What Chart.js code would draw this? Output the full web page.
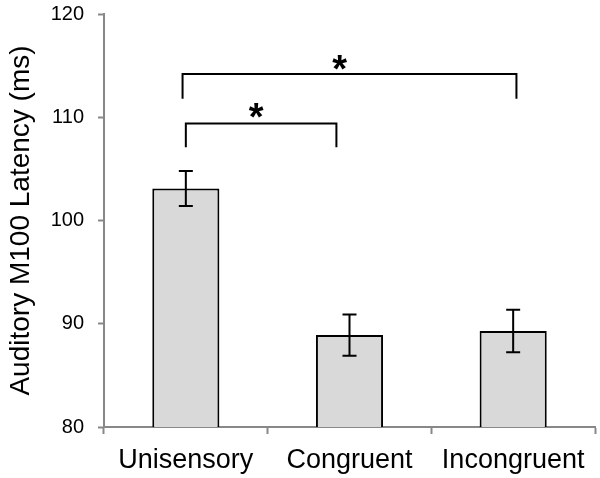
<!DOCTYPE html>
<html><head><meta charset="utf-8">
<script src="https://cdn.jsdelivr.net/npm/chart.js@4.4.0/dist/chart.umd.min.js"></script>
<style>html,body{margin:0;padding:0;background:#fff;}#wrap{width:600px;height:478px;}</style>
</head><body><div id="wrap"><canvas id="c" width="600" height="478"></canvas></div>
<script>
const categories = ['Unisensory', 'Congruent', 'Incongruent'];
const means = [103.1, 88.9, 89.3];
const errors = [1.7, 2.0, 2.05];
const yTicks = [80, 90, 100, 110, 120];
// brackets: [xStartIndex, xEndIndex, topValue, legBottomValue]
const bracketFrom = [0, -0.02];
const bracketTo = [0.92, 2.02];
const bracketTop = [109.4, 114.2];
const bracketLeg = [107.1, 111.8];
const starX = [0.43, 0.94];
const starY = [110.9, 115.5];
const starText = ['*', '*'];

const overlay = {
  id: 'overlay',
  afterDatasetsDraw(chart) {
    const ctx = chart.ctx, x = chart.scales.x, y = chart.scales.y;
    ctx.save();
    ctx.strokeStyle = '#000'; ctx.lineWidth = 2; ctx.lineCap = 'butt';
    means.forEach((m, i) => {
      const px = x.getPixelForValue(i);
      const t = y.getPixelForValue(m + errors[i]), b = y.getPixelForValue(m - errors[i]);
      ctx.beginPath();
      ctx.moveTo(px, t); ctx.lineTo(px, b);
      ctx.moveTo(px - 7, t); ctx.lineTo(px + 7, t);
      ctx.moveTo(px - 7, b); ctx.lineTo(px + 7, b);
      ctx.stroke();
    });
    bracketFrom.forEach((f, i) => {
      const x1 = x.getPixelForValue(f), x2 = x.getPixelForValue(bracketTo[i]);
      const yt = y.getPixelForValue(bracketTop[i]), yl = y.getPixelForValue(bracketLeg[i]);
      ctx.beginPath();
      ctx.moveTo(x1, yl); ctx.lineTo(x1, yt); ctx.lineTo(x2, yt); ctx.lineTo(x2, yl);
      ctx.stroke();
    });
    ctx.fillStyle = '#000';
    ctx.font = 'bold 38px "Liberation Sans", Arial, sans-serif';
    ctx.textAlign = 'center'; ctx.textBaseline = 'alphabetic';
    starX.forEach((sx, i) => {
      ctx.fillText(starText[i], x.getPixelForValue(sx), y.getPixelForValue(starY[i]) + 22);
    });
    ctx.restore();
  }
};

new Chart(document.getElementById('c'), {
  type: 'bar',
  data: {
    labels: categories,
    datasets: [{
      data: means,
      backgroundColor: '#d9d9d9',
      borderColor: '#000',
      borderWidth: 2,
      categoryPercentage: 1,
      barPercentage: 0.41
    }]
  },
  options: {
    responsive: false,
    animation: false,
    layout: { padding: { top: 14, right: 5, left: 0, bottom: 0 } },
    plugins: { legend: { display: false }, tooltip: { enabled: false } },
    scales: {
      x: {
        offset: true,
        grid: { offset: true, drawOnChartArea: false, drawTicks: true, tickLength: 7, tickColor: '#888', tickWidth: 2 },
        border: { color: '#888', width: 2 },
        ticks: { color: '#000', padding: 10, font: { family: '"Liberation Sans", Arial, sans-serif', size: 27 } },
        afterFit(s) { s.height = 51; s.paddingLeft = 0; s.paddingRight = 0; }
      },
      y: {
        min: 80, max: 120,
        afterBuildTicks(s) { s.ticks = yTicks.map(v => ({ value: v })); },
        grid: { drawOnChartArea: false, drawTicks: true, tickLength: 6, tickColor: '#888', tickWidth: 2 },
        border: { color: '#888', width: 2 },
        ticks: { color: '#000', padding: 14, font: { family: '"Liberation Sans", Arial, sans-serif', size: 20 } },
        title: { display: true, text: 'Auditory M100 Latency (ms)', color: '#000', padding: { top: 4, bottom: 0 },
          font: { family: '"Liberation Sans", Arial, sans-serif', size: 28, weight: 'normal' } },
        afterFit(s) { s.width = 104; s.paddingTop = 0; s.paddingBottom = 0; }
      }
    }
  },
  plugins: [overlay]
});
</script>
</body></html>
